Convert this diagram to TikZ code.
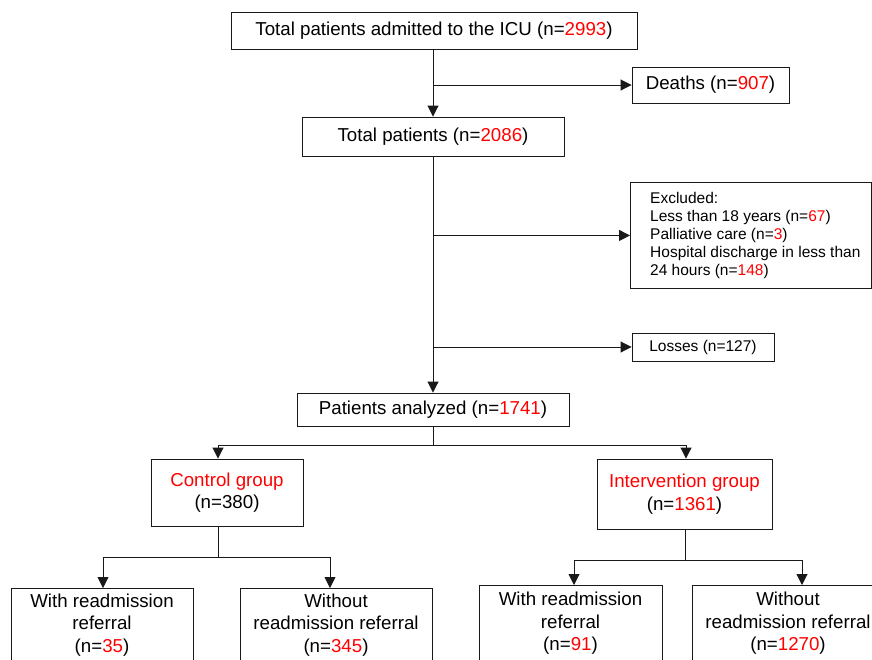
\documentclass[tikz,border=0pt]{standalone}
\usepackage{fontspec}
\setmainfont{Liberation Sans}
\usetikzlibrary{arrows.meta}
\definecolor{lncol}{RGB}{25,25,25}
\newcommand\redn[1]{\textcolor{red}{#1}}
\begin{document}
\begin{tikzpicture}[x=1pt,y=-1pt,
  box/.style={draw=lncol,line width=0.9pt,inner sep=0pt,align=center,
    font=\fontsize{18.7}{22.5}\selectfont},
  smallbox/.style={draw=lncol,line width=0.9pt,inner sep=0pt,
    font=\fontsize{15.5}{18}\selectfont},
  smalltext/.style={inner sep=0pt,align=left,font=\fontsize{15.5}{18}\selectfont},
  conn/.style={draw=lncol,line width=0.9pt},
  arr/.style={conn,-{Triangle[width=11pt,length=11pt]}}]
\useasboundingbox (0,0) rectangle (872,659);
\fill[white] (0,0) rectangle (872,659);
% boxes
\node[box,minimum width=406,minimum height=37] (top) at (434,30.5) {Total patients admitted to the ICU (n=\redn{2993})};
\node[box,minimum width=157,minimum height=36] (deaths) at (710.5,85) {Deaths (n=\redn{907})};
\node[box,minimum width=262,minimum height=39] (total) at (433,136.5) {Total patients (n=\redn{2086})};
\node[smallbox,minimum width=241,minimum height=106,anchor=north west] (exc) at (630,182) {};
\node[smalltext,anchor=west] (exct) at ([xshift=20pt]exc.west) {Excluded:\\
Less than 18 years (n=\redn{67})\\
Palliative care (n=\redn{3})\\
Hospital discharge in less than\\
24 hours (n=\redn{148})};
\node[smallbox,minimum width=142,minimum height=28] (loss) at (703,347) {Losses (n=127)};
\node[box,minimum width=272,minimum height=33] (anal) at (433,409.5) {Patients analyzed (n=\redn{1741})};
\node[box,minimum width=152,minimum height=67] (ctrl) at (227,492.5) {\redn{Control group}\\(n=380)};
\node[box,minimum width=175,minimum height=70] (intv) at (684.5,494) {\redn{Intervention group}\\(n=\redn{1361})};
\node[box,minimum width=182,minimum height=73,anchor=north] (b1) at (102,588) {With readmission\\referral\\(n=\redn{35})};
\node[box,minimum width=192,minimum height=73,anchor=north] (b2) at (336,588) {Without\\readmission referral\\(n=\redn{345})};
\node[box,minimum width=183,minimum height=76,anchor=north] (b3) at (570.5,585) {With readmission\\referral\\(n=\redn{91})};
\node[box,minimum width=192,minimum height=76,anchor=north] (b4) at (788,585) {Without\\readmission referral\\(n=\redn{1270})};
% connectors
\coordinate (sp1) at (top.south -| total.north);
\draw[arr] (sp1) -- (total.north);
\draw[arr] (total.north |- deaths.west) -- (deaths.west);
\draw[arr] (total.south) -- (anal.north);
\draw[arr] (total.south |- exc.west) -- (exc.west);
\draw[arr] (total.south |- loss.west) -- (loss.west);
\coordinate (s1) at ([yshift=-19pt]anal.south);
\coordinate (c1) at ([xshift=-9pt]ctrl.north);
\coordinate (i1) at ([xshift=1.5pt]intv.north);
\draw[conn] (anal.south) -- (s1);
\draw[arr] (s1) -| (c1);
\draw[arr] (s1) -| (i1);
\coordinate (c2) at ([xshift=-9pt]ctrl.south);
\coordinate (s2) at ([yshift=-31pt]c2);
\draw[conn] (c2) -- (s2);
\coordinate (b1n) at (103,588);
\coordinate (b2n) at (330,588);
\draw[arr] (s2) -| (b1n);
\draw[arr] (s2) -| (b2n);
\coordinate (i2) at ([xshift=0.5pt]intv.south);
\coordinate (s3) at ([yshift=-31pt]i2);
\draw[conn] (i2) -- (s3);
\coordinate (b3n) at (574,585);
\coordinate (b4n) at (802,585);
\draw[arr] (s3) -| (b3n);
\draw[arr] (s3) -| (b4n);
\end{tikzpicture}
\end{document}
